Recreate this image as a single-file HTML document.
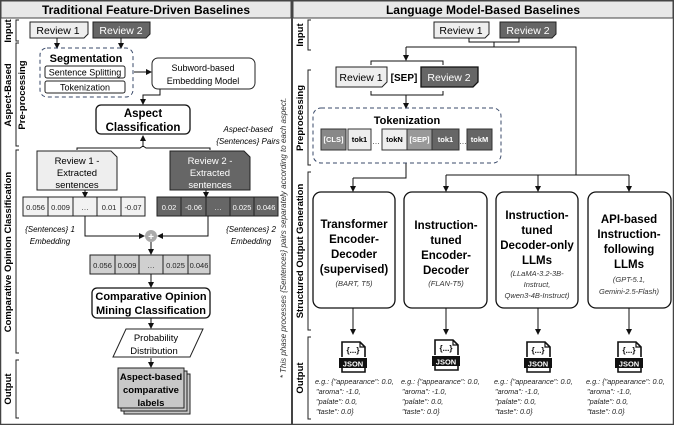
<!DOCTYPE html>
<html><head><meta charset="utf-8"><style>
html,body{margin:0;padding:0;background:#fff}
svg{display:block;font-family:"Liberation Sans",sans-serif}
.b{font-weight:bold}
.i{font-style:italic}
</style></head><body>
<svg width="674" height="425" viewBox="0 0 674 425" xmlns="http://www.w3.org/2000/svg">
<defs>
<marker id="a" markerWidth="6" markerHeight="6" refX="5" refY="3" orient="auto" markerUnits="userSpaceOnUse"><path d="M0,0 L6,3 L0,6 Z" fill="#111"/></marker>
</defs>
<rect x="0.5" y="0.5" width="673" height="424" fill="#fff" stroke="#444" stroke-width="1.5"/>
<rect x="1" y="1" width="290" height="17" fill="#e8e8e8" stroke="#444"/>
<rect x="293" y="1" width="380" height="17" fill="#e8e8e8" stroke="#444"/>
<line x1="292" y1="0" x2="292" y2="425" stroke="#444" stroke-width="2"/>
<text x="146" y="14" text-anchor="middle" class="b" font-size="12">Traditional Feature-Driven Baselines</text>
<text x="483" y="14" text-anchor="middle" class="b" font-size="12">Language Model-Based Baselines</text>

<g fill="none" stroke="#222" stroke-width="1">
<path d="M19,20 h-3 v21 h3"/><path d="M19,43 h-3 v103 h3"/><path d="M19,150 h-3 v203 h3"/><path d="M19,360 h-3 v58 h3"/>
<path d="M311,20 h-3 v30 h3"/><path d="M311,70 h-3 v95 h3"/><path d="M311,172 h-3 v158 h3"/><path d="M311,337 h-3 v82 h3"/>
</g>
<g class="b" font-size="9.5" text-anchor="middle">
<text transform="translate(11,31) rotate(-90)">Input</text>
<text transform="translate(11,95) rotate(-90)">Aspect-Based</text>
<text transform="translate(25,95) rotate(-90)">Pre-processing</text>
<text transform="translate(11,252) rotate(-90)">Comparative Opinion Classification</text>
<text transform="translate(11,389) rotate(-90)">Output</text>
<text transform="translate(303,35) rotate(-90)">Input</text>
<text transform="translate(303,118) rotate(-90)">Preprocessing</text>
<text transform="translate(303,251) rotate(-90)">Structured Output Generation</text>
<text transform="translate(303,378) rotate(-90)">Output</text>
</g>

<!-- LEFT -->
<path d="M30,22 H88 V34 L84,38 H30 Z" fill="#eee" stroke="#222"/>
<text x="58" y="34" text-anchor="middle" font-size="10.5">Review 1</text>
<path d="M93,22 H150 V34 L146,38 H93 Z" fill="#666" stroke="#222"/>
<text x="121" y="34" text-anchor="middle" font-size="10.5" fill="#fff">Review 2</text>
<g stroke="#111" fill="none" marker-end="url(#a)">
<line x1="57" y1="38" x2="57" y2="48"/><line x1="121" y1="38" x2="121" y2="48"/>
</g>
<rect x="40" y="48" width="93" height="49" rx="7" fill="none" stroke="#3a4a6a" stroke-dasharray="4,3"/>
<text x="86" y="62" text-anchor="middle" class="b" font-size="11">Segmentation</text>
<rect x="45" y="66" width="80" height="12" rx="2" fill="#fff" stroke="#222"/>
<text x="85" y="75.5" text-anchor="middle" font-size="9">Sentence Splitting</text>
<rect x="45" y="81" width="80" height="12" rx="2" fill="#fff" stroke="#222"/>
<text x="85" y="90.5" text-anchor="middle" font-size="9">Tokenization</text>
<line x1="134" y1="72" x2="151" y2="72" stroke="#111" marker-end="url(#a)"/>
<rect x="152" y="58" width="103" height="31" rx="6" fill="#fff" stroke="#222"/>
<text x="203" y="71" text-anchor="middle" font-size="9">Subword-based</text>
<text x="203" y="84" text-anchor="middle" font-size="9">Embedding Model</text>
<path d="M160,89 V95 H143 V104" fill="none" stroke="#111" marker-end="url(#a)"/>
<rect x="96" y="105" width="94" height="29" rx="5" fill="#fff" stroke="#111" stroke-width="1.3"/>
<text x="143" y="117" text-anchor="middle" class="b" font-size="11.5">Aspect</text>
<text x="143" y="131" text-anchor="middle" class="b" font-size="11.5">Classification</text>
<path d="M143,146 V136" fill="none" stroke="#111" marker-end="url(#a)"/>
<path d="M143,146 L140,148 H77 V150 M143,146 L146,148 H210 V150" fill="none" stroke="#111"/>
<text x="248" y="132" text-anchor="middle" class="i" font-size="8">Aspect-based</text>
<text x="248" y="144" text-anchor="middle" class="i" font-size="8">{Sentences} Pairs</text>
<path d="M37,151 H111 L117,157 V190 H37 Z" fill="#eee" stroke="#222"/>
<text x="77" y="164" text-anchor="middle" font-size="9.5">Review 1 -</text>
<text x="77" y="176" text-anchor="middle" font-size="9.5">Extracted</text>
<text x="77" y="188" text-anchor="middle" font-size="9.5">sentences</text>
<path d="M170,151 H244 L250,157 V190 H170 Z" fill="#666" stroke="#222"/>
<text x="210" y="164" text-anchor="middle" font-size="9.5" fill="#fff">Review 2 -</text>
<text x="210" y="176" text-anchor="middle" font-size="9.5" fill="#fff">Extracted</text>
<text x="210" y="188" text-anchor="middle" font-size="9.5" fill="#fff">sentences</text>
<g stroke="#111" marker-end="url(#a)"><line x1="85" y1="190" x2="85" y2="197"/><line x1="206" y1="190" x2="206" y2="197"/></g>
<g stroke="#222">
<rect x="23" y="197" width="122" height="19" fill="#f2f2f2"/>
<line x1="48" y1="197" x2="48" y2="216"/><line x1="73" y1="197" x2="73" y2="216"/><line x1="97" y1="197" x2="97" y2="216"/><line x1="121" y1="197" x2="121" y2="216"/>
<rect x="157" y="197" width="121" height="19" fill="#666"/>
<line x1="181" y1="197" x2="181" y2="216"/><line x1="206" y1="197" x2="206" y2="216"/><line x1="230" y1="197" x2="230" y2="216"/><line x1="254" y1="197" x2="254" y2="216"/>
<rect x="90" y="255" width="120" height="19" fill="#d0d0d0"/>
<line x1="115" y1="255" x2="115" y2="274"/><line x1="139" y1="255" x2="139" y2="274"/><line x1="163" y1="255" x2="163" y2="274"/><line x1="188" y1="255" x2="188" y2="274"/>
</g>
<g font-size="7.5" text-anchor="middle" fill="#222">
<text x="35.5" y="210">0.056</text><text x="60.5" y="210">0.009</text><text x="85" y="210">…</text><text x="109" y="210">0.01</text><text x="133" y="210">-0.07</text>
<text x="102.5" y="268">0.056</text><text x="127" y="268">0.009</text><text x="151" y="268">…</text><text x="175.5" y="268">0.025</text><text x="199" y="268">0.046</text>
</g>
<g font-size="7.5" text-anchor="middle" fill="#fff">
<text x="169" y="210">0.02</text><text x="193.5" y="210">-0.06</text><text x="218" y="210">…</text><text x="242" y="210">0.025</text><text x="266" y="210">0.046</text>
</g>
<text x="50" y="232" text-anchor="middle" class="i" font-size="8">{Sentences} 1</text>
<text x="50" y="244" text-anchor="middle" class="i" font-size="8">Embedding</text>
<text x="251" y="232" text-anchor="middle" class="i" font-size="8">{Sentences} 2</text>
<text x="251" y="244" text-anchor="middle" class="i" font-size="8">Embedding</text>
<g fill="none" stroke="#111" marker-end="url(#a)">
<path d="M85,216 V236 H144"/><path d="M208,216 V236 H158"/><path d="M151,242 V254"/>
<path d="M151,274 V287"/><path d="M151,318 V328"/><path d="M151,358 V367"/>
</g>
<circle cx="151" cy="236" r="6" fill="#aaa"/>
<text x="151" y="240" text-anchor="middle" font-size="10" fill="#fff" class="b">+</text>
<rect x="92" y="288" width="118" height="30" rx="5" fill="#fff" stroke="#111" stroke-width="1.3"/>
<text x="151" y="300" text-anchor="middle" class="b" font-size="11">Comparative Opinion</text>
<text x="151" y="314" text-anchor="middle" class="b" font-size="11">Mining Classification</text>
<path d="M126,329 H203 L190,357 H113 Z" fill="#fff" stroke="#222"/>
<text x="156" y="341" text-anchor="middle" font-size="9.5">Probability</text>
<text x="154" y="354" text-anchor="middle" font-size="9.5">Distribution</text>
<g stroke="#222">
<rect x="124" y="374" width="66" height="40" fill="#c8c8c8"/>
<rect x="121" y="371" width="66" height="40" fill="#c8c8c8"/>
<rect x="118" y="368" width="66" height="40" fill="#c8c8c8"/>
</g>
<text x="151" y="380" text-anchor="middle" class="b" font-size="9.5">Aspect-based</text>
<text x="151" y="393" text-anchor="middle" class="b" font-size="9.5">comparative</text>
<text x="151" y="406" text-anchor="middle" class="b" font-size="9.5">labels</text>
<text transform="translate(286,238) rotate(-90)" text-anchor="middle" class="i" font-size="8" fill="#333">* This phase processes {Sentences} pairs separately according to each aspect.</text>

<!-- RIGHT -->
<path d="M434,22 H489 V34 L485,38 H434 Z" fill="#eee" stroke="#222"/>
<text x="461" y="34" text-anchor="middle" font-size="10.5">Review 1</text>
<path d="M500,22 H556 V34 L552,38 H500 Z" fill="#666" stroke="#222"/>
<text x="528" y="34" text-anchor="middle" font-size="10.5" fill="#fff">Review 2</text>
<g fill="none" stroke="#111">
<path d="M469,38 V42 H519 V38"/><path d="M494,42 V47 H406"/><path d="M494,47 H576 V175"/>
<path d="M446,175 H629"/>
<path d="M371,65 V61 H443 V65"/><path d="M371,91 V95 H443 V91"/>
<path d="M406,163 V178 H353"/>
</g>
<g stroke="#111" fill="none" marker-end="url(#a)">
<path d="M406,47 V60"/><path d="M406,95 V108"/>
<path d="M353,178 V191"/><path d="M446,175 V191"/><path d="M538,175 V191"/><path d="M629,175 V191"/>
<path d="M353,308 V334"/><path d="M446,308 V334"/><path d="M538,308 V334"/><path d="M629,308 V334"/>
</g>
<path d="M336,67 H387 V82 L382,87 H336 Z" fill="#eee" stroke="#222"/>
<text x="361" y="81" text-anchor="middle" font-size="10.5">Review 1</text>
<text x="404" y="81" text-anchor="middle" class="b" font-size="10">[SEP]</text>
<path d="M421,67 H478 V82 L473,87 H421 Z" fill="#666" stroke="#111" stroke-width="1.3"/>
<text x="449" y="81" text-anchor="middle" font-size="10.5" fill="#fff">Review 2</text>
<rect x="313" y="108" width="188" height="55" rx="8" fill="none" stroke="#3a4a6a" stroke-dasharray="4,3"/>
<text x="407" y="124" text-anchor="middle" class="b" font-size="11">Tokenization</text>
<g stroke="#333">
<rect x="321" y="129" width="25" height="21" fill="#888"/>
<rect x="348" y="129" width="23" height="21" fill="#eee"/>
<rect x="382" y="129" width="25" height="21" fill="#eee"/>
<rect x="407" y="129" width="25" height="21" fill="#999"/>
<rect x="432" y="129" width="27" height="21" fill="#666"/>
<rect x="467" y="129" width="25" height="21" fill="#666"/>
</g>
<g font-size="7.5" text-anchor="middle" class="b">
<text x="333.5" y="142" fill="#fff">[CLS]</text>
<text x="359.5" y="142">tok1</text>
<text x="376" y="144" font-weight="normal">…</text>
<text x="394.5" y="142">tokN</text>
<text x="419.5" y="142" fill="#fff">[SEP]</text>
<text x="445.5" y="142" fill="#fff">tok1</text>
<text x="463" y="144" font-weight="normal">…</text>
<text x="479.5" y="142" fill="#fff">tokM</text>
</g>
<g fill="#fff" stroke="#111" stroke-width="1.3">
<rect x="313" y="192" width="82" height="116" rx="8"/>
<rect x="404" y="192" width="83" height="116" rx="8"/>
<rect x="496" y="192" width="82" height="116" rx="8"/>
<rect x="588" y="192" width="83" height="116" rx="8"/>
</g>
<g class="b" font-size="11.5" text-anchor="middle">
<text x="354" y="228">Transformer</text><text x="354" y="243">Encoder-</text><text x="354" y="258">Decoder</text><text x="354" y="273">(supervised)</text>
<text x="446" y="229">Instruction-</text><text x="446" y="244">tuned</text><text x="446" y="259">Encoder-</text><text x="446" y="274">Decoder</text>
<text x="537" y="219">Instruction-</text><text x="537" y="234">tuned</text><text x="537" y="249">Decoder-only</text><text x="537" y="264">LLMs</text>
<text x="629" y="223">API-based</text><text x="629" y="238">Instruction-</text><text x="629" y="253">following</text><text x="629" y="268">LLMs</text>
</g>
<g class="i" font-size="7.5" text-anchor="middle" fill="#333">
<text x="354" y="286">(BART, T5)</text>
<text x="446" y="286">(FLAN-T5)</text>
<text x="537" y="276">(LLaMA-3.2-3B-</text><text x="537" y="287">Instruct,</text><text x="537" y="298">Qwen3-4B-Instruct)</text>
<text x="629" y="282">(GPT-5.1,</text><text x="629" y="294">Gemini-2.5-Flash)</text>
</g>
<g transform="translate(353,358)"><path d="M-11,-1 V-16 H7 L12,-11 V-1" fill="#fff" stroke="#111" stroke-width="1.6"/><path d="M7,-16 V-11 H12" fill="none" stroke="#111" stroke-width="1.2"/><rect x="-14" y="0" width="28" height="10" fill="#111"/><path d="M-11,10 V14 H12 V10" fill="#fff" stroke="#111" stroke-width="1.6"/><text x="0" y="-5" text-anchor="middle" class="b" font-size="8">{...}</text><text x="0" y="8.5" text-anchor="middle" class="b" font-size="7.5" fill="#fff">JSON</text></g>
<g transform="translate(446,356)"><path d="M-11,-1 V-16 H7 L12,-11 V-1" fill="#fff" stroke="#111" stroke-width="1.6"/><path d="M7,-16 V-11 H12" fill="none" stroke="#111" stroke-width="1.2"/><rect x="-14" y="0" width="28" height="10" fill="#111"/><path d="M-11,10 V14 H12 V10" fill="#fff" stroke="#111" stroke-width="1.6"/><text x="0" y="-5" text-anchor="middle" class="b" font-size="8">{...}</text><text x="0" y="8.5" text-anchor="middle" class="b" font-size="7.5" fill="#fff">JSON</text></g>
<g transform="translate(538,358)"><path d="M-11,-1 V-16 H7 L12,-11 V-1" fill="#fff" stroke="#111" stroke-width="1.6"/><path d="M7,-16 V-11 H12" fill="none" stroke="#111" stroke-width="1.2"/><rect x="-14" y="0" width="28" height="10" fill="#111"/><path d="M-11,10 V14 H12 V10" fill="#fff" stroke="#111" stroke-width="1.6"/><text x="0" y="-5" text-anchor="middle" class="b" font-size="8">{...}</text><text x="0" y="8.5" text-anchor="middle" class="b" font-size="7.5" fill="#fff">JSON</text></g>
<g transform="translate(629,358)"><path d="M-11,-1 V-16 H7 L12,-11 V-1" fill="#fff" stroke="#111" stroke-width="1.6"/><path d="M7,-16 V-11 H12" fill="none" stroke="#111" stroke-width="1.2"/><rect x="-14" y="0" width="28" height="10" fill="#111"/><path d="M-11,10 V14 H12 V10" fill="#fff" stroke="#111" stroke-width="1.6"/><text x="0" y="-5" text-anchor="middle" class="b" font-size="8">{...}</text><text x="0" y="8.5" text-anchor="middle" class="b" font-size="7.5" fill="#fff">JSON</text></g>
<g class="i" font-size="7.3" fill="#222">
<text x="315" y="384">e.g.: {"appearance": 0.0,</text><text x="316" y="394">"aroma": -1.0,</text><text x="316" y="404">"palate": 0.0,</text><text x="316" y="414">"taste": 0.0}</text>
<text x="401" y="384">e.g.: {"appearance": 0.0,</text><text x="402" y="394">"aroma": -1.0,</text><text x="402" y="404">"palate": 0.0,</text><text x="402" y="414">"taste": 0.0}</text>
<text x="494" y="384">e.g.: {"appearance": 0.0,</text><text x="495" y="394">"aroma": -1.0,</text><text x="495" y="404">"palate": 0.0,</text><text x="495" y="414">"taste": 0.0}</text>
<text x="586" y="384">e.g.: {"appearance": 0.0,</text><text x="587" y="394">"aroma": -1.0,</text><text x="587" y="404">"palate": 0.0,</text><text x="587" y="414">"taste": 0.0}</text>
</g>
</svg>
</body></html>
